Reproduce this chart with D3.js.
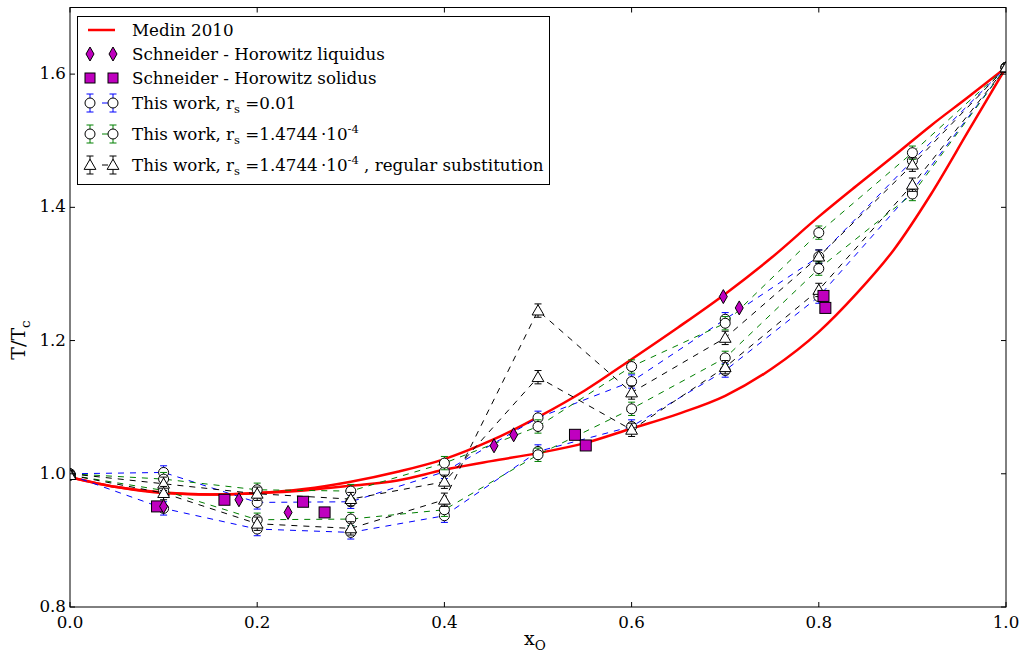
<!DOCTYPE html>
<html>
<head>
<meta charset="utf-8">
<script src="https://cdn.jsdelivr.net/npm/d3@7"></script>
<style>
  body { margin: 0; background: #fff; }
  text { font-family: "DejaVu Serif", serif; }
</style>
</head>
<body>
<div id="chart"></div>
<script>
// composition grid
const xs = [0, 0.1, 0.2, 0.3, 0.4, 0.5, 0.6, 0.7, 0.8, 0.9, 1.0];

// This work, r_s = 0.01 (blue)
const blueUpper = [1.0, 1.002, 0.957, 0.958, 1.003, 1.084, 1.1385, 1.232, 1.326, 1.47, 1.61];
const blueLower = [0.998, 0.948, 0.917, 0.912, 0.937, 1.0335, 1.071, 1.155, 1.266, 1.425, 1.61];
const blueErr = [0.005, 0.01, 0.01, 0.01, 0.01, 0.01, 0.01, 0.01, 0.01, 0.01, 0.005];

// This work, r_s = 1.4744e-4 (green)
const greenUpper = [1.0, 0.992, 0.976, 0.974, 1.016, 1.071, 1.161, 1.226, 1.362, 1.482, 1.61];
const greenLower = [0.998, 0.975, 0.931, 0.932, 0.946, 1.0285, 1.0975, 1.174, 1.308, 1.42, 1.61];
const greenErr = [0.005, 0.01, 0.01, 0.01, 0.01, 0.01, 0.01, 0.01, 0.01, 0.01, 0.005];

// This work, regular substitution (black)
const blackA = [1.0, 0.985, 0.97, 0.962, 0.988, 1.145, 1.066, 1.16, 1.276, 1.434, 1.61];
const blackB = [0.998, 0.971, 0.925, 0.918, 0.961, 1.245, 1.122, 1.204, 1.326, 1.464, 1.61];
const blackErr = [0.005, 0.01, 0.01, 0.01, 0.01, 0.01, 0.01, 0.01, 0.01, 0.01, 0.005];

// Medin 2010
const medinX = [0, 0.05, 0.1, 0.15, 0.2, 0.25, 0.3, 0.35, 0.4, 0.45, 0.5, 0.55, 0.6, 0.65, 0.7, 0.75, 0.8, 0.84, 0.88, 0.92, 0.96, 1.0];
const medinLiq = [0.995, 0.98, 0.972, 0.969, 0.971, 0.977, 0.988, 1.003, 1.022, 1.05, 1.085, 1.125, 1.172, 1.22, 1.27, 1.325, 1.386, 1.432, 1.477, 1.523, 1.566, 1.61];
const medinSol = [0.995, 0.98, 0.971, 0.969, 0.971, 0.975, 0.982, 0.99, 1.006, 1.019, 1.031, 1.046, 1.068, 1.09, 1.117, 1.158, 1.213, 1.27, 1.336, 1.42, 1.515, 1.61];

// Schneider - Horowitz
const shLiqX = [0.1, 0.1805, 0.233, 0.453, 0.474, 0.698, 0.715];
const shLiqY = [0.951, 0.961, 0.942, 1.042, 1.0585, 1.266, 1.249];
const shSolX = [0.093, 0.165, 0.249, 0.272, 0.5395, 0.551, 0.805, 0.807];
const shSolY = [0.951, 0.961, 0.958, 0.942, 1.0585, 1.0425, 1.267, 1.249];

const xTicks = [0, 0.2, 0.4, 0.6, 0.8, 1.0];
const yTicks = [0.8, 1.0, 1.2, 1.4, 1.6];

const W = 1021, H = 655;
const m = { left: 70, right: 1006, top: 7.5, bottom: 607 };

const svg = d3.select("#chart").append("svg")
  .attr("width", W).attr("height", H);

const x = d3.scaleLinear().domain([0, 1]).range([m.left, m.right]);
const y = d3.scaleLinear().domain([0.8, 1.7]).range([m.bottom, m.top]);

svg.append("clipPath").attr("id", "clip")
  .append("rect").attr("x", m.left).attr("y", m.top)
  .attr("width", m.right - m.left).attr("height", m.bottom - m.top);

const plot = svg.append("g").attr("clip-path", "url(#clip)");

// Medin curves
const medLine = d3.line().x(d => x(d[0])).y(d => y(d[1])).curve(d3.curveMonotoneX);
[medinLiq, medinSol].forEach(vals => {
  plot.append("path")
    .datum(medinX.map((v, i) => [v, vals[i]]))
    .attr("fill", "none").attr("stroke", "#ff0000").attr("stroke-width", 2.5)
    .attr("d", medLine);
});

const tri = d3.symbol().type(d3.symbolTriangle).size(60);

function drawSeries(vals, errs, color, marker) {
  const pts = xs.map((v, i) => [v, vals[i], errs[i]]);
  plot.append("path")
    .datum(pts)
    .attr("fill", "none").attr("stroke", color).attr("stroke-width", 1)
    .attr("stroke-dasharray", "6,6")
    .attr("d", d3.line().x(d => x(d[0])).y(d => y(d[1])));
  const g = plot.append("g");
  pts.forEach(d => {
    const cx = x(d[0]), y1 = y(d[1] + d[2]), y2 = y(d[1] - d[2]);
    g.append("line").attr("x1", cx).attr("x2", cx).attr("y1", y1).attr("y2", y2)
      .attr("stroke", color).attr("stroke-width", 1);
    [y1, y2].forEach(yy => g.append("line")
      .attr("x1", cx - 3.5).attr("x2", cx + 3.5).attr("y1", yy).attr("y2", yy)
      .attr("stroke", color).attr("stroke-width", 1));
  });
  pts.forEach(d => {
    if (marker === "o") {
      g.append("circle").attr("cx", x(d[0])).attr("cy", y(d[1])).attr("r", 5)
        .attr("fill", "#fff").attr("stroke", "#000").attr("stroke-width", 1);
    } else {
      g.append("path").attr("d", tri)
        .attr("transform", `translate(${x(d[0])},${y(d[1]) + 1})`)
        .attr("fill", "#fff").attr("stroke", "#000").attr("stroke-width", 1);
    }
  });
}

drawSeries(blueUpper, blueErr, "#0000ff", "o");
drawSeries(blueLower, blueErr, "#0000ff", "o");
drawSeries(greenUpper, greenErr, "#008000", "o");
drawSeries(greenLower, greenErr, "#008000", "o");
drawSeries(blackA, blackErr, "#000000", "^");
drawSeries(blackB, blackErr, "#000000", "^");

// Schneider - Horowitz markers
const diamond = "M0,-7L4,0L0,7L-4,0Z";
plot.selectAll(".sq").data(shSolX).enter().append("rect")
  .attr("x", d => x(d) - 5.5).attr("y", (d, i) => y(shSolY[i]) - 5.5)
  .attr("width", 11).attr("height", 11)
  .attr("fill", "#bf00bf").attr("stroke", "#000").attr("stroke-width", 1);
plot.selectAll(".dm").data(shLiqX).enter().append("path")
  .attr("d", diamond)
  .attr("transform", (d, i) => `translate(${x(d)},${y(shLiqY[i])})`)
  .attr("fill", "#bf00bf").attr("stroke", "#000").attr("stroke-width", 1);

// frame
svg.append("rect").attr("x", m.left).attr("y", m.top)
  .attr("width", m.right - m.left).attr("height", m.bottom - m.top)
  .attr("fill", "none").attr("stroke", "#000").attr("stroke-width", 1);

// ticks (inward, all four sides)
const tl = 5;
const tg = svg.append("g").attr("stroke", "#000").attr("stroke-width", 1);
xTicks.forEach(t => {
  tg.append("line").attr("x1", x(t)).attr("x2", x(t)).attr("y1", m.bottom).attr("y2", m.bottom - tl);
  tg.append("line").attr("x1", x(t)).attr("x2", x(t)).attr("y1", m.top).attr("y2", m.top + tl);
});
yTicks.forEach(t => {
  tg.append("line").attr("x1", m.left).attr("x2", m.left + tl).attr("y1", y(t)).attr("y2", y(t));
  tg.append("line").attr("x1", m.right).attr("x2", m.right - tl).attr("y1", y(t)).attr("y2", y(t));
});

const fs = 16.7;
const fmt = d3.format(".1f");
svg.selectAll(".xt").data(xTicks).enter().append("text")
  .attr("x", d => x(d)).attr("y", m.bottom + 21)
  .attr("text-anchor", "middle").attr("font-size", fs).text(fmt);
svg.selectAll(".yt").data(yTicks).enter().append("text")
  .attr("x", m.left - 4).attr("y", d => y(d) + 5)
  .attr("text-anchor", "end").attr("font-size", fs).text(fmt);

// axis labels
const xl = svg.append("text").attr("x", 524).attr("y", 645).attr("font-size", 19);
xl.append("tspan").text("x");
xl.append("tspan").attr("dy", 5).attr("font-size", 13.5).text("O");

const yl = svg.append("text").attr("transform", "translate(25,340) rotate(-90)")
  .attr("text-anchor", "middle").attr("font-size", 19);
yl.append("tspan").text("T/T");
yl.append("tspan").attr("dy", 5).attr("font-size", 13.5).text("c");

// legend
const lg = svg.append("g");
lg.append("rect").attr("x", 77.5).attr("y", 16.5).attr("width", 472).attr("height", 168)
  .attr("fill", "#fff").attr("stroke", "#000").attr("stroke-width", 1);

const rows = [30, 54, 78, 103, 134, 165];
const mx1 = 90, mx2 = 113, tx = 132;

lg.append("line").attr("x1", 88).attr("x2", 115).attr("y1", rows[0]).attr("y2", rows[0])
  .attr("stroke", "#ff0000").attr("stroke-width", 2.5);
[mx1, mx2].forEach(mk => {
  lg.append("path").attr("d", diamond).attr("transform", `translate(${mk},${rows[1]})`)
    .attr("fill", "#bf00bf").attr("stroke", "#000");
  lg.append("rect").attr("x", mk - 5).attr("y", rows[2] - 5).attr("width", 10).attr("height", 10)
    .attr("fill", "#bf00bf").attr("stroke", "#000");
});
[["#0000ff", "o", rows[3]], ["#008000", "o", rows[4]], ["#000000", "^", rows[5]]].forEach(([c, mk, ry]) => {
  lg.append("line").attr("x1", 102).attr("x2", 108).attr("y1", ry).attr("y2", ry)
    .attr("stroke", c).attr("stroke-width", 1);
  [mx1, mx2].forEach(px => {
    lg.append("line").attr("x1", px).attr("x2", px).attr("y1", ry - 9).attr("y2", ry + 9).attr("stroke", c);
    lg.append("line").attr("x1", px - 3.5).attr("x2", px + 3.5).attr("y1", ry - 9).attr("y2", ry - 9).attr("stroke", c);
    lg.append("line").attr("x1", px - 3.5).attr("x2", px + 3.5).attr("y1", ry + 9).attr("y2", ry + 9).attr("stroke", c);
    if (mk === "o") {
      lg.append("circle").attr("cx", px).attr("cy", ry).attr("r", 5).attr("fill", "#fff").attr("stroke", "#000");
    } else {
      lg.append("path").attr("d", tri).attr("transform", `translate(${px},${ry + 1})`)
        .attr("fill", "#fff").attr("stroke", "#000");
    }
  });
});

lg.append("text").attr("x", tx).attr("y", rows[0] + 6).attr("font-size", fs).text("Medin 2010");
lg.append("text").attr("x", tx).attr("y", rows[1] + 6).attr("font-size", fs).text("Schneider - Horowitz liquidus");
lg.append("text").attr("x", tx).attr("y", rows[2] + 6).attr("font-size", fs).text("Schneider - Horowitz solidus");

function workLabel(ry, value, exp, extra) {
  const t = lg.append("text").attr("x", tx).attr("y", ry + 6).attr("font-size", fs);
  t.append("tspan").text("This work, r");
  t.append("tspan").attr("dy", 4).attr("font-size", 11.5).text("s");
  t.append("tspan").attr("dy", -4).text(" =" + value);
  if (exp) {
    t.append("tspan").attr("dy", -7).attr("font-size", 11.5).text(exp);
    t.append("tspan").attr("dy", 7).text(extra || "");
  }
}
workLabel(rows[3], "0.01");
workLabel(rows[4], "1.4744\u2009\u00b710", "-4");
workLabel(rows[5], "1.4744\u2009\u00b710", "-4", " , regular substitution");
</script>
</body>
</html>
